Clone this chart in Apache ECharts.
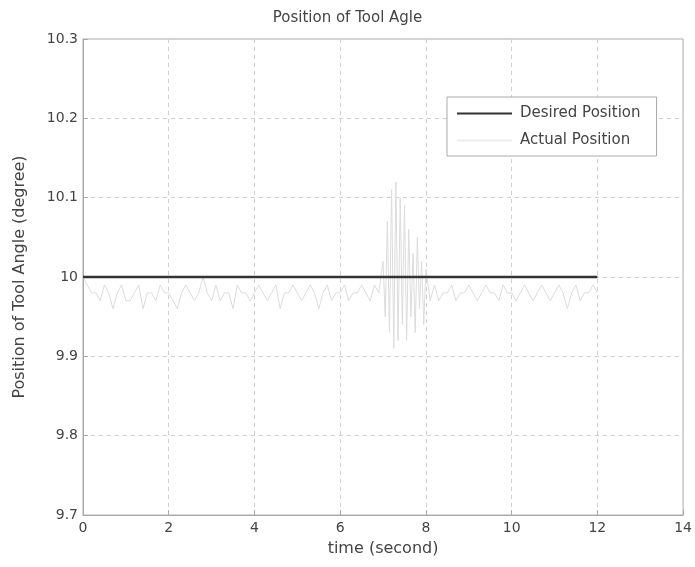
<!DOCTYPE html>
<html><head><meta charset="utf-8">
<script src="https://cdn.jsdelivr.net/npm/echarts@6/dist/echarts.min.js"></script>
<style>html,body{margin:0;padding:0;background:#fff}#c{width:695px;height:567px}</style>
</head><body><div id="c"></div>
<script>
const xTicks = [0, 2, 4, 6, 8, 10, 12, 14];
const yTicks = [9.7, 9.8, 9.9, 10, 10.1, 10.2, 10.3];
const desiredTime = [0, 12];
const desiredValues = [10, 10];
const actualTime = [
 0.0,0.1,0.2,0.3,0.4,0.5,0.6,0.7,0.8,0.9,1.0,1.1,1.2,1.3,1.4,1.5,1.6,1.7,1.8,1.9,
 2.0,2.1,2.2,2.3,2.4,2.5,2.6,2.7,2.8,2.9,3.0,3.1,3.2,3.3,3.4,3.5,3.6,3.7,3.8,3.9,
 4.0,4.1,4.2,4.3,4.4,4.5,4.6,4.7,4.8,4.9,5.0,5.1,5.2,5.3,5.4,5.5,5.6,5.7,5.8,5.9,
 6.0,6.1,6.2,6.3,6.4,6.5,6.6,6.7,6.8,6.9,7.0,7.05,7.1,7.15,7.2,7.25,7.3,7.35,7.4,7.45,
 7.5,7.55,7.6,7.65,7.7,7.75,7.8,7.85,7.9,7.95,8.0,8.1,8.2,8.3,8.4,8.5,8.6,8.7,8.8,8.9,
 9.0,9.1,9.2,9.3,9.4,9.5,9.6,9.7,9.8,9.9,10.0,10.1,10.2,10.3,10.4,10.5,10.6,10.7,10.8,10.9,
 11.0,11.1,11.2,11.3,11.4,11.5,11.6,11.7,11.8,11.9,12.0
];
const actualValues = [
 10.0,9.99,9.98,9.98,9.97,9.99,9.98,9.96,9.98,9.99,9.97,9.97,9.98,9.99,9.96,9.98,9.98,9.97,9.99,9.98,
 9.98,9.97,9.96,9.98,9.99,9.98,9.97,9.98,10.0,9.98,9.97,9.99,9.97,9.98,9.98,9.96,9.99,9.98,9.98,9.97,
 9.98,9.99,9.98,9.97,9.98,9.99,9.96,9.98,9.98,9.99,9.98,9.97,9.98,9.99,9.98,9.96,9.98,9.99,9.97,9.98,
 9.98,9.99,9.97,9.98,9.98,9.99,9.98,9.97,9.99,9.98,10.02,9.95,10.07,9.93,10.11,9.91,10.12,9.92,10.10,9.94,
 10.09,9.92,10.06,9.95,10.03,9.93,10.05,9.96,10.02,9.94,10.01,9.97,9.99,9.97,9.98,9.98,9.99,9.97,9.98,9.98,
 9.99,9.98,9.97,9.98,9.99,9.98,9.98,9.97,9.99,9.98,9.98,9.97,9.98,9.99,9.98,9.97,9.98,9.99,9.98,9.97,
 9.98,9.99,9.98,9.96,9.98,9.99,9.97,9.98,9.98,9.99,9.98
];
const chart = echarts.init(document.getElementById('c'));
const font = 'DejaVu Sans, sans-serif';
chart.setOption({
  animation: false,
  textStyle: {fontFamily: font},
  title: {text: 'Position of Tool Agle', left: 'center', top: 6,
    textStyle: {fontSize: 15, fontWeight: 'normal', color: '#444', fontFamily: font}},
  grid: {left: 83, right: 11, top: 39, bottom: 52, show: true, borderColor: '#aaa', borderWidth: 1},
  legend: {
    left: 447, top: 97, orient: 'vertical', itemGap: 12,
    padding: [9, 16, 8, 10], borderColor: '#aaa', borderWidth: 1, backgroundColor: '#fff',
    itemWidth: 55, itemHeight: 2,
    textStyle: {fontSize: 15, color: '#444', fontFamily: font, padding: [0, 0, 0, 3]},
    data: [
      {name: 'Desired Position', icon: 'rect', itemStyle: {color: '#333'}},
      {name: 'Actual Position', icon: 'rect', itemStyle: {color: '#ececec'}}
    ]
  },
  xAxis: {
    type: 'value', min: 0, max: 14, interval: 2,
    name: 'time (second)', nameLocation: 'middle', nameGap: 26,
    nameTextStyle: {fontSize: 16, color: '#444'},
    axisLine: {show: true, lineStyle: {color: '#aaa'}},
    axisTick: {show: true, inside: true, length: 5, lineStyle: {color: '#aaa'}},
    axisLabel: {fontSize: 14, color: '#444', margin: 6},
    splitLine: {show: true, lineStyle: {type: [4, 4], color: '#d0d0d0'}}
  },
  yAxis: {
    type: 'value', min: 9.7, max: 10.3, interval: 0.1,
    name: 'Position of Tool Angle (degree)', nameLocation: 'middle', nameGap: 55,
    nameTextStyle: {fontSize: 16, color: '#444'},
    axisLine: {show: true, lineStyle: {color: '#aaa'}},
    axisTick: {show: true, inside: true, length: 5, lineStyle: {color: '#aaa'}},
    axisLabel: {fontSize: 14, color: '#444', margin: 5,
      formatter: v => { const r = Math.round(v*10)/10; return yTicks.includes(r) ? String(r) : ''; }},
    splitLine: {show: true, lineStyle: {type: [4, 4], color: '#d0d0d0'}}
  },
  series: [
    {name: 'Actual Position', type: 'line', showSymbol: false, z: 2,
     data: actualTime.map((t, i) => [t, actualValues[i]]),
     lineStyle: {color: '#dcdcdc', width: 1}, itemStyle: {color: '#ececec'}},
    {name: 'Desired Position', type: 'line', showSymbol: false, z: 3,
     data: desiredTime.map((t, i) => [t, desiredValues[i]]),
     lineStyle: {color: '#333', width: 2.5}, itemStyle: {color: '#333'}}
  ]
});
</script></body></html>
